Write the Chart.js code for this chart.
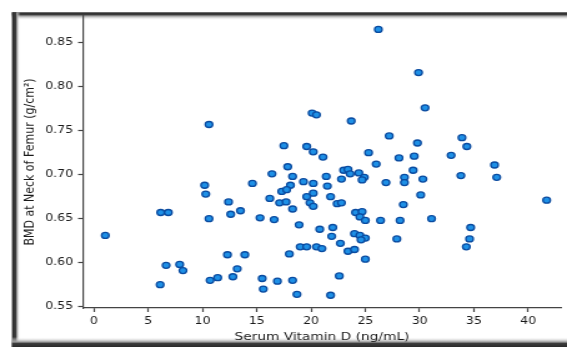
<!DOCTYPE html>
<html lang="en">
<head>
<meta charset="UTF-8">
<title>BMD vs Serum Vitamin D</title>
<style>
  body { margin: 0; padding: 0; background: #fff; overflow: hidden; }
  #wrap { width: 567px; height: 347px; }
  /* the source figure is stretched sideways, so draw it narrow and widen it */
  #myChart { display: block; transform: scaleX(1.2489); transform-origin: 0 0; }
</style>
<script src="https://cdn.jsdelivr.net/npm/chart.js"></script>
</head>
<body>
<div id="wrap"><canvas id="myChart" width="454" height="347"></canvas></div>
<script>
  // Serum vitamin D (ng/mL) for each subject
  const vitaminD = [
    1.05, 6.15, 6.85, 6.65, 6.1, 7.9, 8.2, 10.2, 10.3, 10.6,
    10.6, 10.7, 11.4, 12.3, 13.9, 13.2, 12.8, 12.4, 12.6, 13.5,
    14.6, 15.3, 15.5, 15.6, 16.9, 16.4, 16.2, 16.6, 17.5, 17.85,
    18.3, 18.1, 17.3, 17.75, 17.1, 17.7, 18.3, 18.9, 18.0, 19.0,
    19.6, 20.5, 21.0, 18.3, 18.7, 19.6, 20.2, 21.1, 20.1, 20.5,
    19.3, 20.2, 21.4, 21.5, 20.2, 19.6, 19.9, 20.2, 21.8, 22.4,
    22.8, 20.8, 22.0, 21.9, 22.7, 23.4, 24.0, 25.0, 22.6, 21.8,
    23.7, 26.2, 29.9, 30.5, 27.2, 29.8, 25.3, 28.1, 29.5, 26.0,
    23.0, 23.4, 23.6, 22.8, 24.4, 24.9, 24.7, 26.9, 28.6, 28.6,
    29.4, 30.3, 30.1, 28.5, 24.1, 24.7, 24.5, 25.0, 26.4, 28.2,
    31.1, 24.0, 24.5, 25.0, 24.6, 27.9, 33.9, 34.35, 32.9, 36.9,
    33.8, 37.1, 41.7, 34.7, 34.6, 34.3
  ];
  // BMD at neck of femur (g/cm2), same order
  const bmd = [
    0.631, 0.657, 0.657, 0.597, 0.575, 0.598, 0.591, 0.688, 0.678, 0.650,
    0.757, 0.580, 0.583, 0.609, 0.609, 0.593, 0.584, 0.669, 0.655, 0.659,
    0.690, 0.651, 0.582, 0.570, 0.579, 0.701, 0.673, 0.649, 0.733, 0.709,
    0.698, 0.688, 0.681, 0.683, 0.668, 0.669, 0.661, 0.643, 0.610, 0.618,
    0.618, 0.618, 0.616, 0.580, 0.564, 0.732, 0.726, 0.720, 0.770, 0.768,
    0.692, 0.690, 0.698, 0.687, 0.679, 0.675, 0.668, 0.664, 0.675, 0.667,
    0.668, 0.638, 0.640, 0.630, 0.622, 0.613, 0.615, 0.604, 0.585, 0.563,
    0.761, 0.865, 0.816, 0.776, 0.744, 0.736, 0.725, 0.719, 0.721, 0.712,
    0.705, 0.706, 0.701, 0.695, 0.702, 0.697, 0.694, 0.691, 0.697, 0.691,
    0.705, 0.695, 0.677, 0.666, 0.657, 0.658, 0.652, 0.648, 0.648, 0.648,
    0.650, 0.633, 0.631, 0.628, 0.626, 0.627, 0.742, 0.732, 0.722, 0.711,
    0.699, 0.697, 0.671, 0.640, 0.627, 0.618
  ];
  const xTicks = [0, 5, 10, 15, 20, 25, 30, 35, 40];
  const yTicks = [0.55, 0.60, 0.65, 0.70, 0.75, 0.80, 0.85];

  // dark frame with soft inner shadow, like the screenshot border
  const framePlugin = {
    id: 'frame',
    beforeDraw(chart) {
      const ctx = chart.ctx;
      const W = chart.width, H = chart.height;
      const L = 9.6, T = 12.3;
      ctx.save();
      ctx.fillStyle = '#fff';
      ctx.fillRect(0, 0, W, H);

      let g = ctx.createLinearGradient(0, T, 0, T + 8);
      g.addColorStop(0, '#2a2a2a');
      g.addColorStop(0.3, '#3c3c3c');
      g.addColorStop(0.45, '#9a9a9a');
      g.addColorStop(1, 'rgba(255,255,255,0)');
      ctx.fillStyle = g;
      ctx.fillRect(L, T, W - L, 8);

      g = ctx.createLinearGradient(L, 0, L + 6.5, 0);
      g.addColorStop(0, '#2a2a2a');
      g.addColorStop(0.45, '#3c3c3c');
      g.addColorStop(0.6, '#9a9a9a');
      g.addColorStop(1, 'rgba(255,255,255,0)');
      ctx.fillStyle = g;
      ctx.fillRect(L, T, 6.5, H - T);

      g = ctx.createLinearGradient(0, H - 10, 0, H);
      g.addColorStop(0, 'rgba(255,255,255,0)');
      g.addColorStop(0.5, '#9a9a9a');
      g.addColorStop(0.65, '#3c3c3c');
      g.addColorStop(1, '#2a2a2a');
      ctx.fillStyle = g;
      ctx.fillRect(L, H - 10, W - L, 10);
      ctx.restore();
    }
  };

  const points = vitaminD.map((v, i) => ({ x: v, y: bmd[i] }));

  new Chart(document.getElementById('myChart'), {
    type: 'scatter',
    data: {
      datasets: [{
        data: points,
        pointRadius: 3,
        pointHoverRadius: 3,
        borderWidth: 1.3,
        backgroundColor: 'rgb(30,144,230)',
        borderColor: 'rgb(10,75,160)'
      }]
    },
    options: {
      responsive: false,
      animation: false,
      events: [],
      layout: { padding: { left: 0, top: 16, right: 5, bottom: 0 } },
      plugins: { legend: { display: false }, tooltip: { enabled: false } },
      scales: {
        x: {
          type: 'linear',
          min: -1,
          max: 43,
          afterBuildTicks: s => { s.ticks = xTicks.map(v => ({ value: v })); },
          afterFit: s => { s.height = 39; },
          grid: { drawOnChartArea: false, tickLength: 4, tickColor: '#444', tickWidth: 1.2 },
          border: { display: true, color: '#444', width: 1.2 },
          ticks: { color: '#1a1a1a', padding: 3, maxRotation: 0, font: { family: 'DejaVu Sans', size: 10 } },
          title: {
            display: true,
            text: 'Serum Vitamin D (ng/mL)',
            color: '#1a1a1a',
            padding: { top: 0, bottom: 3.4 },
            font: { family: 'DejaVu Sans', size: 11 }
          }
        },
        y: {
          min: 0.5485,
          max: 0.8803,
          afterBuildTicks: s => { s.ticks = yTicks.map(v => ({ value: v })); },
          afterFit: s => { s.width = 66.5; },
          grid: { drawOnChartArea: false, tickLength: 4, tickColor: '#444', tickWidth: 1.2 },
          border: { display: true, color: '#444', width: 1.2 },
          ticks: {
            color: '#1a1a1a',
            padding: 4,
            font: { family: 'DejaVu Sans', size: 10 },
            callback: v => v.toFixed(2)
          },
          title: {
            display: true,
            text: 'BMD at Neck of Femur (g/cm²)',
            color: '#1a1a1a',
            padding: { top: 17.4, bottom: 0 },
            font: { family: 'DejaVu Sans', size: 11 }
          }
        }
      }
    },
    plugins: [framePlugin]
  });
</script>
</body>
</html>
